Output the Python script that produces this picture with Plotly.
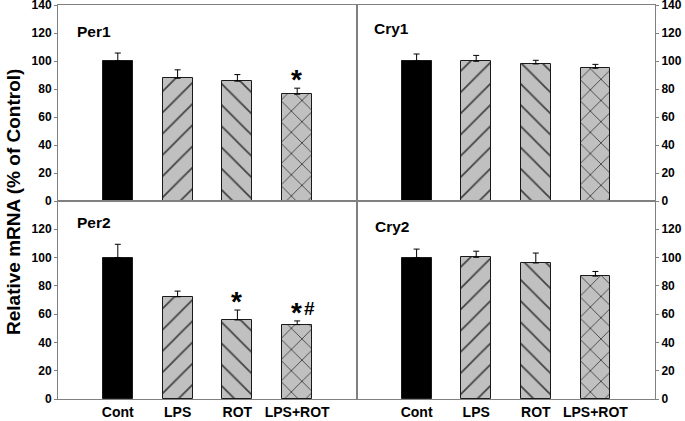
import plotly.graph_objects as go
from plotly.subplots import make_subplots

categories = ["Cont", "LPS", "ROT", "LPS+ROT"]

per1 = [100, 87.7, 85.6, 76.3]
per1_err = [5.7, 6.0, 4.7, 4.3]
per1_sig = ["", "", "", "*"]

cry1 = [100, 99.8, 97.9, 94.8]
cry1_err = [5.0, 4.2, 2.6, 2.8]
cry1_sig = ["", "", "", ""]

per2 = [100, 72.3, 55.9, 52.6]
per2_err = [9.4, 4.0, 7.0, 2.6]
per2_sig = ["", "", "*", "*#"]

cry2 = [100, 100.2, 96.2, 86.9]
cry2_err = [6.0, 4.3, 7.0, 3.3]
cry2_sig = ["", "", "", ""]

panel_names = ["Per1", "Cry1", "Per2", "Cry2"]
y_ticks_top = [0, 20, 40, 60, 80, 100, 120, 140]
y_ticks_bottom = [0, 20, 40, 60, 80, 100, 120]

bar_colors = ["black", "#c0c0c0", "#c0c0c0", "#c0c0c0"]
bar_patterns = ["", "/", "\\", "x"]

FONT = "Liberation Sans, Arial, sans-serif"
LINE = "#808080"

fig = make_subplots(rows=2, cols=2, horizontal_spacing=0, vertical_spacing=0)

panels = [
    (per1, per1_err, per1_sig, 1, 1),
    (cry1, cry1_err, cry1_sig, 1, 2),
    (per2, per2_err, per2_sig, 2, 1),
    (cry2, cry2_err, cry2_sig, 2, 2),
]

for vals, errs, sigs, r, c in panels:
    fig.add_trace(
        go.Bar(
            x=categories,
            y=vals,
            width=0.5,
            marker=dict(
                color=bar_colors,
                line=dict(color="#1a1a1a", width=1),
                pattern=dict(shape=bar_patterns, fgcolor="black", fgopacity=1,
                             size=15, solidity=0.12, fillmode="overlay"),
            ),
            error_y=dict(type="data", symmetric=False, array=errs,
                         arrayminus=[0] * len(errs), color="black",
                         thickness=1, width=3),
            showlegend=False,
            hoverinfo="skip",
        ),
        row=r, col=c,
    )
    for cat, v, e, s in zip(categories, vals, errs, sigs):
        if not s:
            continue
        has_hash = "#" in s
        fig.add_annotation(
            x=cat, y=v + e, text="*", showarrow=False, yanchor="bottom",
            xshift=-1, yshift=-9,
            font=dict(family=FONT, size=28, color="black", weight="bold"),
            row=r, col=c,
        )
        if has_hash:
            fig.add_annotation(
                x=cat, y=v + e, text="#", showarrow=False, yanchor="bottom",
                xshift=12, yshift=0,
                font=dict(family=FONT, size=19, color="black", weight="bold"),
                row=r, col=c,
            )

xl = [0, 299 / 597]
xr = [299 / 597, 1]
yt = [0.5025, 1]
yb = [0, 0.5025]

axis_font = dict(family=FONT, size=12, color="black", weight="bold")
xaxis_font = dict(family=FONT, size=14, color="black", weight="bold")

for i, (r, c) in enumerate([(1, 1), (1, 2), (2, 1), (2, 2)]):
    xdom = xl if c == 1 else xr
    ydom = yt if r == 1 else yb
    fig.update_xaxes(
        domain=xdom, range=[-1, 4], showline=True, mirror=True, linecolor=LINE,
        linewidth=1, ticks="", showgrid=False, zeroline=False, automargin=False,
        showticklabels=(r == 2), tickfont=xaxis_font, ticklabelstandoff=0,
        ticklabeloverflow="allow", row=r, col=c,
    )
    fig.update_yaxes(
        domain=ydom, range=[0, 140],
        tickvals=y_ticks_top if r == 1 else y_ticks_bottom,
        side="left" if c == 1 else "right",
        showline=True, mirror=True, linecolor=LINE, linewidth=1,
        ticks="outside", ticklen=3, tickcolor=LINE, tickwidth=1,
        showgrid=False, zeroline=False, tickfont=axis_font, automargin=False,
        ticklabeloverflow="allow", row=r, col=c,
    )

title_pos = {
    "Per1": ("x domain", "y domain", 0.058, 0.867),
    "Cry1": ("x2 domain", "y2 domain", 0.05, 0.88),
    "Per2": ("x3 domain", "y3 domain", 0.058, 0.894),
    "Cry2": ("x4 domain", "y4 domain", 0.053, 0.869),
}
for name in panel_names:
    xr_, yr_, xx, yy = title_pos[name]
    fig.add_annotation(
        xref=xr_, yref=yr_, x=xx, y=yy, text=name, showarrow=False,
        xanchor="left", yanchor="middle",
        font=dict(family=FONT, size=15.5, color="black", weight="bold"),
    )

fig.add_annotation(
    xref="paper", yref="paper", x=-0.0754, y=0.5, text="Relative mRNA (% of Control)",
    textangle=-90, showarrow=False, xanchor="center", yanchor="middle",
    font=dict(family=FONT, size=19, color="black", weight="bold"),
)

fig.update_layout(
    width=685, height=421,
    margin=dict(l=58, r=30, t=5, b=22, autoexpand=False),
    paper_bgcolor="white", plot_bgcolor="white",
    bargap=0,
)

fig.write_html(
    "out.html",
    config={"displayModeBar": False},
    post_script="document.body.style.margin='0';document.body.style.overflow='hidden';",
)
